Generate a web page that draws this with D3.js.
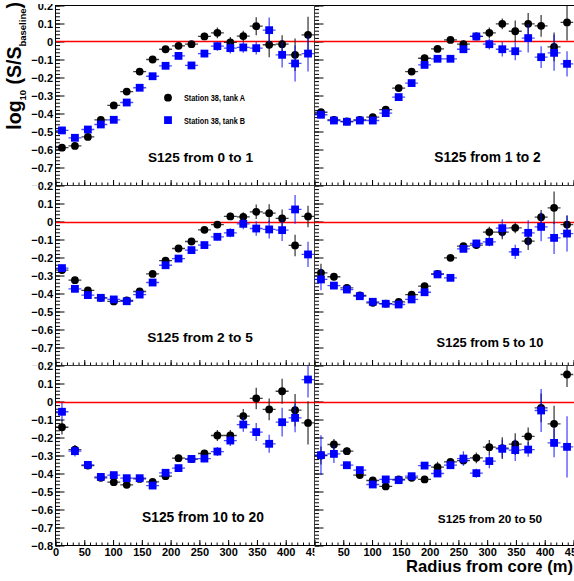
<!DOCTYPE html>
<html>
<head>
<meta charset="utf-8">
<script src="https://cdn.jsdelivr.net/npm/d3@7"></script>
<style>
  body { margin: 0; background: #fff; }
  svg { display: block; font-family: "Liberation Sans", Arial, sans-serif; font-weight: bold; }
</style>
</head>
<body>
<div id="chart"></div>
<script>
// ── Data ────────────────────────────────────────────────────────────────
const binCenters = [11.25, 33.75, 56.25, 78.75, 101.25, 123.75, 146.25, 168.75, 191.25, 213.75,
                    236.25, 258.75, 281.25, 303.75, 326.25, 348.75, 371.25, 393.75, 416.25, 438.75];
const binHalfWidth = 11.25;

const xTicks = [0, 50, 100, 150, 200, 250, 300, 350, 400, 450];
const yTicks = [0.2, 0.1, 0, -0.1, -0.2, -0.3, -0.4, -0.5, -0.6, -0.7, -0.8];

const panelTitles = ["S125 from 0 to 1", "S125 from 1 to 2", "S125 from 2 to 5",
                     "S125 from 5 to 10", "S125 from 10 to 20", "S125 from 20 to 50"];
const seriesNames = ["Station 38, tank A", "Station 38, tank B"];

// tank A / tank B per S125 range (log10 S/S_baseline) and their errors
const a0to1    = [-0.59, -0.58, -0.53, -0.435, -0.355, -0.278, -0.167, -0.10, -0.043, -0.024, -0.015, 0.028, 0.048, -0.005, 0.03, 0.085, -0.018, -0.015, -0.074, 0.037];
const a0to1Err = [0.01, 0.01, 0.01, 0.01, 0.01, 0.01, 0.01, 0.012, 0.012, 0.015, 0.015, 0.02, 0.03, 0.03, 0.03, 0.05, 0.07, 0.05, 0.09, 0.1];
const b0to1    = [-0.494, -0.535, -0.489, -0.461, -0.435, -0.339, -0.257, -0.193, -0.135, -0.08, -0.133, -0.067, -0.026, -0.037, -0.033, -0.037, 0.063, -0.074, -0.122, -0.067];
const b0to1Err = [0.01, 0.01, 0.01, 0.01, 0.01, 0.01, 0.01, 0.01, 0.012, 0.012, 0.015, 0.02, 0.025, 0.03, 0.03, 0.035, 0.07, 0.07, 0.1, 0.1];

const a1to2    = [-0.393, -0.435, -0.444, -0.435, -0.42, -0.378, -0.259, -0.167, -0.093, -0.041, 0.009, -0.015, 0.028, 0.048, 0.098, 0.057, 0.098, 0.087, -0.03, 0.106];
const a1to2Err = [0.01, 0.01, 0.01, 0.01, 0.01, 0.01, 0.01, 0.012, 0.012, 0.015, 0.015, 0.02, 0.02, 0.03, 0.03, 0.06, 0.06, 0.06, 0.08, 0.1];
const b1to2    = [-0.407, -0.439, -0.446, -0.439, -0.439, -0.398, -0.309, -0.231, -0.13, -0.096, -0.096, -0.043, 0.028, -0.015, -0.043, -0.054, 0.019, -0.087, -0.063, -0.124];
const b1to2Err = [0.01, 0.01, 0.01, 0.01, 0.01, 0.01, 0.01, 0.01, 0.012, 0.012, 0.015, 0.02, 0.02, 0.03, 0.04, 0.05, 0.08, 0.06, 0.1, 0.07];

const a2to5    = [-0.27, -0.326, -0.383, -0.424, -0.444, -0.439, -0.389, -0.291, -0.217, -0.15, -0.111, -0.046, -0.017, 0.028, 0.026, 0.054, 0.046, 0.017, -0.133, 0.028];
const a2to5Err = [0.02, 0.015, 0.01, 0.01, 0.01, 0.01, 0.01, 0.01, 0.012, 0.012, 0.015, 0.015, 0.02, 0.02, 0.025, 0.04, 0.05, 0.05, 0.06, 0.06];
const b2to5    = [-0.259, -0.374, -0.409, -0.424, -0.433, -0.443, -0.406, -0.339, -0.243, -0.206, -0.159, -0.131, -0.085, -0.063, -0.013, -0.039, -0.044, -0.048, 0.067, -0.183];
const b2to5Err = [0.02, 0.01, 0.01, 0.01, 0.01, 0.01, 0.01, 0.01, 0.012, 0.012, 0.015, 0.015, 0.02, 0.025, 0.03, 0.04, 0.05, 0.06, 0.08, 0.07];

const a5to10    = [-0.285, -0.307, -0.369, -0.411, -0.452, -0.456, -0.446, -0.406, -0.359, -0.291, -0.202, -0.137, -0.131, -0.059, -0.059, -0.035, -0.109, 0.024, 0.076, -0.017];
const a5to10Err = [0.05, 0.015, 0.01, 0.01, 0.01, 0.01, 0.01, 0.01, 0.012, 0.012, 0.015, 0.015, 0.02, 0.03, 0.04, 0.03, 0.05, 0.04, 0.09, 0.05];
const b5to10    = [-0.322, -0.356, -0.378, -0.415, -0.446, -0.457, -0.461, -0.433, -0.393, -0.294, -0.313, -0.152, -0.122, -0.113, -0.037, -0.169, -0.063, -0.03, -0.091, -0.067];
const b5to10Err = [0.06, 0.01, 0.01, 0.01, 0.01, 0.01, 0.01, 0.01, 0.012, 0.012, 0.015, 0.015, 0.02, 0.025, 0.05, 0.04, 0.07, 0.08, 0.09, 0.1];

const a10to20    = [-0.143, -0.267, -0.356, -0.424, -0.448, -0.463, -0.43, -0.446, -0.415, -0.315, -0.32, -0.289, -0.189, -0.189, -0.081, 0.017, -0.044, 0.057, -0.048, -0.119];
const a10to20Err = [0.04, 0.025, 0.01, 0.01, 0.01, 0.01, 0.01, 0.01, 0.012, 0.012, 0.015, 0.02, 0.03, 0.03, 0.04, 0.06, 0.06, 0.07, 0.09, 0.12];
const b10to20    = [-0.057, -0.276, -0.352, -0.419, -0.409, -0.426, -0.426, -0.467, -0.396, -0.37, -0.319, -0.317, -0.278, -0.217, -0.128, -0.17, -0.235, -0.115, -0.091, 0.122];
const b10to20Err = [0.05, 0.03, 0.01, 0.01, 0.01, 0.01, 0.01, 0.01, 0.012, 0.012, 0.015, 0.02, 0.025, 0.03, 0.04, 0.05, 0.05, 0.08, 0.08, 0.1];

const a20to50    = [-0.30, -0.239, -0.276, -0.409, -0.439, -0.472, -0.433, -0.424, -0.433, -0.365, -0.335, -0.328, -0.313, -0.254, -0.259, -0.237, -0.194, -0.035, -0.124, 0.15];
const a20to50Err = [0.05, 0.03, 0.02, 0.01, 0.01, 0.01, 0.01, 0.01, 0.012, 0.03, 0.015, 0.02, 0.03, 0.04, 0.06, 0.06, 0.05, 0.08, 0.1, 0.07];
const b20to50    = [-0.298, -0.291, -0.354, -0.381, -0.461, -0.433, -0.437, -0.415, -0.356, -0.40, -0.354, -0.317, -0.398, -0.331, -0.263, -0.27, -0.267, -0.05, -0.23, -0.252];
const b20to50Err = [0.11, 0.05, 0.02, 0.01, 0.01, 0.01, 0.01, 0.01, 0.015, 0.015, 0.02, 0.04, 0.025, 0.04, 0.05, 0.06, 0.04, 0.12, 0.08, 0.17];

const panels = [
    { a: a0to1,   aErr: a0to1Err,   b: b0to1,   bErr: b0to1Err },
    { a: a1to2,   aErr: a1to2Err,   b: b1to2,   bErr: b1to2Err },
    { a: a2to5,   aErr: a2to5Err,   b: b2to5,   bErr: b2to5Err },
    { a: a5to10,  aErr: a5to10Err,  b: b5to10,  bErr: b5to10Err },
    { a: a10to20, aErr: a10to20Err, b: b10to20, bErr: b10to20Err },
    { a: a20to50, aErr: a20to50Err, b: b20to50, bErr: b20to50Err }
];

// ── Layout ──────────────────────────────────────────────────────────────
const W = 574, H = 581;
const colX   = [[55.5, 314.5], [314.5, 573.5]];
const rowTop = [5.5, 185.5, 365.5];
const panelH = 180;
const padX = [[0, 314.5], [314.5, 574]];
const padY = [[4, 185.5], [185.5, 365.5], [365.5, 581]];

// panel label placement (centre x, centre y, font size)
const labelPos = [
    [200.5, 157, 13.6], [487.5, 157, 13.8],
    [200,   337, 13.7], [490,   342, 12.9],
    [203,   517, 13.8], [490,   519, 11.8]
];

const svg = d3.select("#chart").append("svg")
    .attr("width", W)
    .attr("height", H);

const defs = svg.append("defs");
const labelFont = g => g.selectAll("text")
    .style("font-size", "11px").style("font-weight", "bold")
    .style("font-family", "'Liberation Sans', Arial, sans-serif").attr("fill", "#000");

panels.forEach((p, i) => {
    const col = i % 2;
    const row = Math.floor(i / 2);
    const top = rowTop[row];

    const x = d3.scaleLinear().domain([0, 450]).range(colX[col]);
    const y = d3.scaleLinear().domain([-0.8, 0.2]).range([top + panelH, top]);

    // clip regions: pad (for labels) and frame (for data)
    defs.append("clipPath").attr("id", `pad-${i}`)
        .append("rect")
        .attr("x", padX[col][0]).attr("y", padY[row][0])
        .attr("width", padX[col][1] - padX[col][0])
        .attr("height", padY[row][1] - padY[row][0]);
    defs.append("clipPath").attr("id", `frame-${i}`)
        .append("rect")
        .attr("x", colX[col][0]).attr("y", top)
        .attr("width", colX[col][1] - colX[col][0])
        .attr("height", panelH);

    const pad = svg.append("g").attr("clip-path", `url(#pad-${i})`);

    // Frame
    pad.append("rect")
        .attr("x", colX[col][0]).attr("y", top)
        .attr("width", (col === 1 ? 580 : colX[col][1]) - colX[col][0])
        .attr("height", panelH)
        .attr("fill", "none")
        .attr("stroke", "#000")
        .attr("stroke-width", 1);

    // Y axis (ticks inside)
    const yMinor = d3.range(-80, 21, 2).map(k => k / 100);
    pad.append("g")
        .attr("transform", `translate(${colX[col][0]},0)`)
        .call(d3.axisLeft(y).tickValues(yMinor).tickSize(-4.5).tickSizeOuter(0).tickFormat(""))
        .call(g => g.select(".domain").remove());

    const yAxis = d3.axisLeft(y).tickValues(yTicks).tickSize(-9).tickSizeOuter(0).tickPadding(2.5)
        .tickFormat(d => col === 0 ? (d === 0 ? "0" : d3.format(".1f")(d)) : "");
    pad.append("g")
        .attr("transform", `translate(${colX[col][0]},0)`)
        .call(yAxis)
        .call(g => g.select(".domain").remove())
        .call(labelFont);

    // X axis (ticks inside)
    const xMinor = d3.range(0, 451, 10);
    pad.append("g")
        .attr("transform", `translate(0,${top + panelH})`)
        .call(d3.axisBottom(x).tickValues(xMinor).tickSize(-3).tickSizeOuter(0).tickFormat(""))
        .call(g => g.select(".domain").remove());

    pad.append("g")
        .attr("transform", `translate(0,${top + panelH})`)
        .call(d3.axisBottom(x).tickValues(xTicks).tickSize(-5.5).tickSizeOuter(0).tickPadding(2.5)
            .tickFormat(d => (row === 2 && !(col === 1 && d === 0)) ? d : ""))
        .call(g => g.select(".domain").remove())
        .call(labelFont);

    // Reference line at 0
    pad.append("line")
        .attr("x1", colX[col][0] + 0.5).attr("x2", colX[col][1] + 1)
        .attr("y1", Math.round(y(0)) + 0.5).attr("y2", Math.round(y(0)) + 0.5)
        .style("stroke", "#ff0000")
        .style("stroke-width", "1.4px");

    // Data points
    const dataG = pad.append("g").attr("clip-path", `url(#frame-${i})`);

    const series = [
        { vals: p.a, errs: p.aErr, color: "#000", barOpacity: 0.75 },
        { vals: p.b, errs: p.bErr, color: "#0000ff", barOpacity: 0.7 }
    ];

    series.forEach((s, si) => {
        const pts = binCenters.map((c, k) => ({ c, v: s.vals[k], e: s.errs[k] }));
        const sg = dataG.append("g");

        sg.selectAll(".xerr").data(pts).join("line")
            .attr("class", "xerr")
            .attr("x1", d => x(d.c - binHalfWidth)).attr("x2", d => x(d.c + binHalfWidth))
            .attr("y1", d => y(d.v)).attr("y2", d => y(d.v))
            .attr("stroke", s.color).attr("stroke-opacity", s.barOpacity).attr("stroke-width", 1.3);

        sg.selectAll(".yerr").data(pts).join("line")
            .attr("class", "yerr")
            .attr("x1", d => x(d.c)).attr("x2", d => x(d.c))
            .attr("y1", d => y(d.v - d.e)).attr("y2", d => y(d.v + d.e))
            .attr("stroke", s.color).attr("stroke-opacity", s.barOpacity).attr("stroke-width", 1.3);

        if (si === 0) {
            sg.selectAll(".mk").data(pts).join("circle")
                .attr("class", "mk")
                .attr("cx", d => x(d.c)).attr("cy", d => y(d.v))
                .attr("r", 3.9).attr("fill", s.color);
        } else {
            sg.selectAll(".mk").data(pts).join("rect")
                .attr("class", "mk")
                .attr("x", d => x(d.c) - 3.9).attr("y", d => y(d.v) - 3.9)
                .attr("width", 7.8).attr("height", 7.8).attr("fill", s.color);
        }
    });

    // Panel label
    const [lx, ly, lfs] = labelPos[i];
    pad.append("text")
        .attr("x", lx).attr("y", ly + lfs * 0.36)
        .attr("text-anchor", "middle")
        .style("font-size", lfs + "px")
        .text(panelTitles[i]);
});

// ── Legend (first panel) ────────────────────────────────────────────────
const legend = svg.append("g");
legend.append("circle").attr("cx", 168).attr("cy", 97.7).attr("r", 3.9).attr("fill", "#000");
legend.append("rect").attr("x", 164.1).attr("y", 116.2).attr("width", 7.8).attr("height", 7.8).attr("fill", "#0000ff");
[97.7, 120.2].forEach((cy, k) => {
    legend.append("text")
        .attr("x", 184).attr("y", cy + 3.3)
        .attr("textLength", 61).attr("lengthAdjust", "spacingAndGlyphs")
        .style("font-size", "9px")
        .text(seriesNames[k]);
});

// ── Axis titles ─────────────────────────────────────────────────────────
const yTitle = svg.append("text")
    .attr("transform", "translate(21,2) rotate(-90)")
    .attr("text-anchor", "end")
    .style("font-size", "19.5px");
yTitle.append("tspan").text("log");
yTitle.append("tspan").attr("dy", 5).style("font-size", "9.5px").text("10");
yTitle.append("tspan").attr("dy", -5).text(" (S/S");
yTitle.append("tspan").attr("dy", 5).style("font-size", "9.5px").text("baseline");
yTitle.append("tspan").attr("dy", -5).text(")");

svg.append("text")
    .attr("x", 573).attr("y", 572)
    .attr("text-anchor", "end")
    .style("font-size", "16.6px")
    .text("Radius from core (m)");
</script>
</body>
</html>
